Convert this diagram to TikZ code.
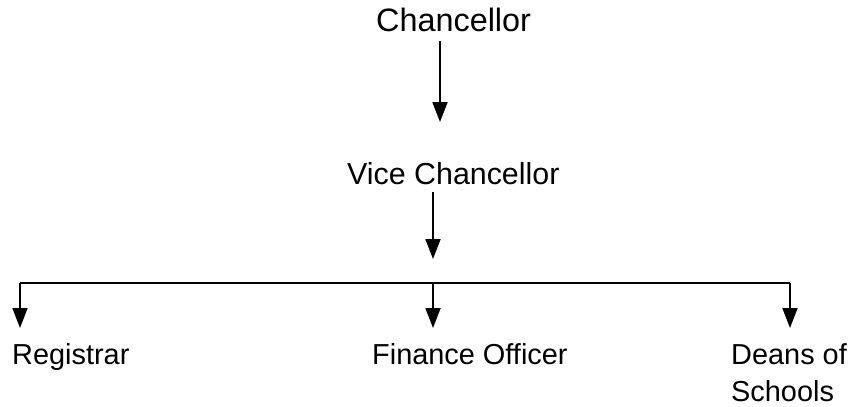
\documentclass[tikz,border=0pt]{standalone}
\usepackage{fontspec}
\setmainfont{Liberation Sans}
\usetikzlibrary{arrows.meta}
\tikzset{
  lbl/.style={anchor=base west, inner sep=0pt, font=\fontsize{29}{37}\selectfont},
  toplbl/.style={lbl, font=\fontsize{32.5}{38}\selectfont},
  midlbl/.style={lbl, font=\fontsize{30.5}{37}\selectfont},
  conn/.style={line width=1.8bp, draw=black},
  arr/.style={conn, -{Triangle[width=15bp,length=20bp]}}
}
\begin{document}
\begin{tikzpicture}[x=1bp,y=-1bp]
\useasboundingbox[fill=white] (0,0) rectangle (854,406);
\node[toplbl] (chan) at (376,31) {Chancellor};
\node[midlbl] (vc) at (347,184) {Vice Chancellor};
\node[lbl] (reg) at (12,364) {Registrar};
\node[lbl] (fin) at (372,364) {Finance Officer};
\node[lbl, align=left] (dean) at (731,401) {Deans of\\Schools};
% connector ends
\coordinate (c1a) at (440,41);
\coordinate (c1b) at (440,122);
\coordinate (c2a) at (433,192);
\coordinate (c2b) at (433,259);
\coordinate (hl) at (20,283);
\coordinate (hm) at (433,283);
\coordinate (hr) at (790,283);
\coordinate (tl) at (20,328);
\coordinate (tm) at (433,328);
\coordinate (tr) at (790,328);
\draw[arr] (c1a) -- (c1b);
\draw[arr] (c2a) -- (c2b);
\draw[conn] (hl) -- (hr);
\draw[arr] (hl) -- (tl);
\draw[arr] (hm) -- (tm);
\draw[arr] (hr) -- (tr);
\end{tikzpicture}
\end{document}
